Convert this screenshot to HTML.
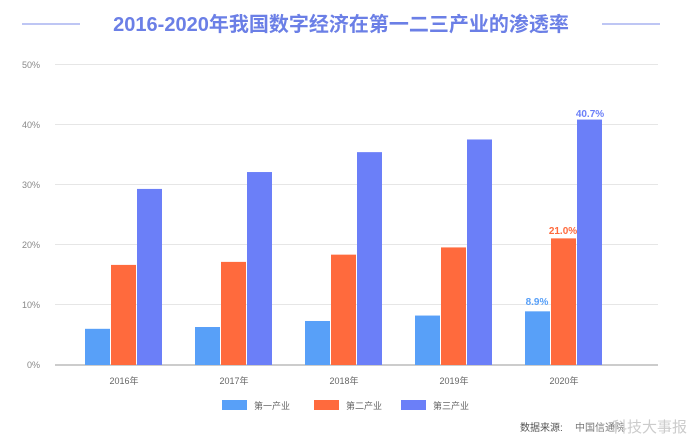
<!DOCTYPE html>
<html><head><meta charset="utf-8"><style>
body{margin:0;background:#fff;width:700px;height:443px;overflow:hidden;font-family:"Liberation Sans","Noto Sans CJK SC",sans-serif}
</style></head><body>
<svg width="700" height="443" xmlns="http://www.w3.org/2000/svg" font-family="Liberation Sans, Noto Sans CJK SC, sans-serif">
<line x1="22" y1="24" x2="80" y2="24" stroke="#a9b4f0" stroke-width="1.5"/>
<line x1="602" y1="24" x2="660" y2="24" stroke="#a9b4f0" stroke-width="1.5"/>
<text x="341" y="31" text-anchor="middle" font-size="20" font-weight="bold" fill="#6b7fe6">2016-2020年我国数字经济在第一二三产业的渗透率</text>
<g stroke="#e6e6e6" stroke-width="1">
<line x1="55" y1="64.5" x2="658" y2="64.5"/>
<line x1="55" y1="124.5" x2="658" y2="124.5"/>
<line x1="55" y1="184.5" x2="658" y2="184.5"/>
<line x1="55" y1="244.5" x2="658" y2="244.5"/>
<line x1="55" y1="304.5" x2="658" y2="304.5"/>
</g>
<line x1="55" y1="365" x2="658" y2="365" stroke="#999" stroke-width="1"/>
<g font-size="9" fill="#888" text-anchor="end">
<text x="40" y="68">50%</text><text x="40" y="128">40%</text><text x="40" y="188">30%</text><text x="40" y="248">20%</text><text x="40" y="308">10%</text><text x="40" y="368">0%</text>
</g>
<g id="bars"></g>
<g font-size="9" fill="#666" text-anchor="middle">
<text x="124" y="384">2016年</text><text x="234" y="384">2017年</text><text x="344" y="384">2018年</text><text x="454" y="384">2019年</text><text x="564" y="384">2020年</text>
</g>
<text x="537" y="305" font-size="10" font-weight="bold" fill="#58a0f8" text-anchor="middle">8.9%</text>
<text x="563" y="234" font-size="10" font-weight="bold" fill="#ff6a3d" text-anchor="middle">21.0%</text>
<text x="590" y="117" font-size="10" font-weight="bold" fill="#6b7ff8" text-anchor="middle">40.7%</text>
<rect x="222" y="400" width="25" height="10" fill="#58a0f8"/><text x="254" y="409" font-size="9" fill="#666">第一产业</text>
<rect x="314" y="400" width="25" height="10" fill="#ff6a3d"/><text x="346" y="409" font-size="9" fill="#666">第二产业</text>
<rect x="401" y="400" width="25" height="10" fill="#6b7ff8"/><text x="433" y="409" font-size="9" fill="#666">第三产业</text>
<text x="520" y="431" font-size="10" fill="#555">数据来源:</text>
<text x="575" y="431" font-size="10" fill="#777">中国信通院</text>
<text x="612" y="432" font-size="15" fill="#ccc">科技大事报</text>
</svg>
<script>
var b=[[6.0,16.6,29.2],[6.3,17.1,32.0],[7.3,18.3,35.3],[8.2,19.5,37.4],[8.9,21.0,40.7]];
var c=["#58a0f8","#ff6a3d","#6b7ff8"],s="";
b.forEach(function(g,i){g.forEach(function(v,j){var h=v*6.03;s+='<rect x="'+(85+i*110+j*26)+'" y="'+(365-h)+'" width="25" height="'+h+'" fill="'+c[j]+'"/>';});});
document.getElementById("bars").innerHTML=s;
</script>
</body></html>
